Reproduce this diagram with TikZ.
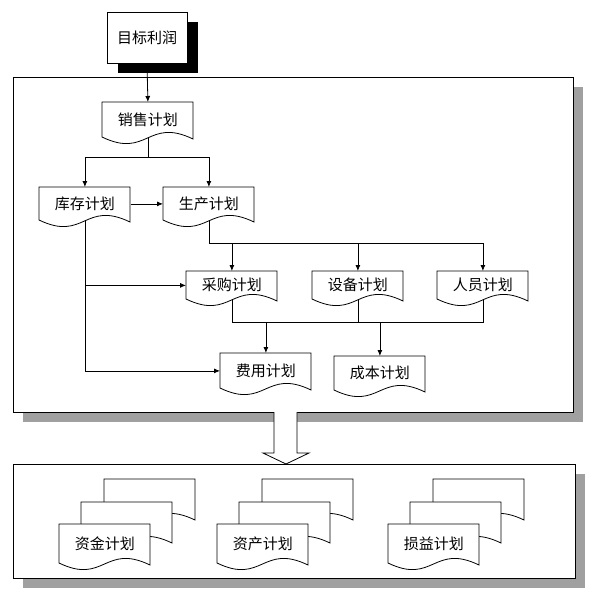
\documentclass[tikz,border=0pt]{standalone}
\usepackage{fontspec}
\newfontfamily\cjk{Noto Sans CJK SC}
\usepackage{tikz}
\usetikzlibrary{arrows.meta,shadows}
\definecolor{Shade}{HTML}{A0A0A0}

\newcommand{\plandoc}[5]{%
  \draw [fill=white] (#2,#3+#4) -- (#2,#3) -- (#2+91,#3) -- (#2+91,#3+#4+2)
    .. controls +(-45.5,-22) and +(45.5,22) .. (#2,#3+#4) -- cycle;
  \node [plan,minimum height=#4pt] (#1) at (#2,#3) {\raisebox{2pt}{#5}};
}
\newcommand{\planstack}[3]{%
  \plandoc{#1-3}{#2+45}{479}{39}{}
  \plandoc{#1-2}{#2+22}{502}{39}{}
  \plandoc{#1}{#2}{524}{39}{#3}
}

\begin{document}
\begin{tikzpicture}[x=1pt,y=-1pt,line width=0.8pt,>={Latex[length=6pt,width=5pt]},
  plan/.style={anchor=north west,minimum width=91pt,inner sep=0pt,font=\cjk\fontsize{15}{17}\selectfont}]
\useasboundingbox (0,0) rectangle (589,595);

\fill [Shade] (23,87) rectangle (583,422);
\draw [fill=white] (13,77) rectangle (573,412);
\fill [Shade] (23,474) rectangle (585,588);
\draw [fill=white] (13,464) rectangle (575,578);

\node [draw,fill=white,minimum width=80pt,minimum height=51pt,font=\cjk\fontsize{15}{17}\selectfont,
  general shadow={fill=black,shadow xshift=11pt,shadow yshift=-10pt}] (mb) at (147,37.5) {目标利润};

\plandoc{xs}{102}{102}{35}{销售计划}
\plandoc{kc}{39}{187}{33}{库存计划}
\plandoc{sc}{163}{187}{33}{生产计划}
\plandoc{cg}{186}{271}{28}{采购计划}
\plandoc{sb}{312}{271}{28}{设备计划}
\plandoc{ry}{437}{271}{28}{人员计划}
\plandoc{fy}{220}{353}{35}{费用计划}
\plandoc{cb}{334}{356}{34}{成本计划}

\draw [->] (mb.south) -- (xs.north);
\draw (xs.south) -- ++(0,20) coordinate (j0);
\draw [->] (j0) -| (kc.north);
\draw [->] (j0) -| (sc.north);
\draw [->] (kc.east) -- (sc.west);

\draw (sc.south) -- ++(0,23) coordinate (j1);
\draw [->] (j1) -| (ry.north);
\draw [->] (j1 -| cg.north) -- (cg.north);
\draw [->] (j1 -| sb.north) -- (sb.north);

\draw (cg.south) -- ++(0,23) coordinate (j2) -| (ry.south);
\draw (sb.south) -- (sb.south |- j2);
\draw [->] (fy.north |- j2) -- (fy.north);
\draw [->] (cb.north |- j2) -- (cb.north);

\draw [->] (kc.south) |- (fy.west);
\draw [->] (kc.south |- cg.west) -- (cg.west);

\draw [fill=white] (274,412) -- (274,453) -- (263,453) -- (286,464) -- (309,453) -- (297,453) -- (297,412);

\planstack{zj}{59}{资金计划}
\planstack{zc}{217}{资产计划}
\planstack{sy}{388}{损益计划}
\end{tikzpicture}
\end{document}
